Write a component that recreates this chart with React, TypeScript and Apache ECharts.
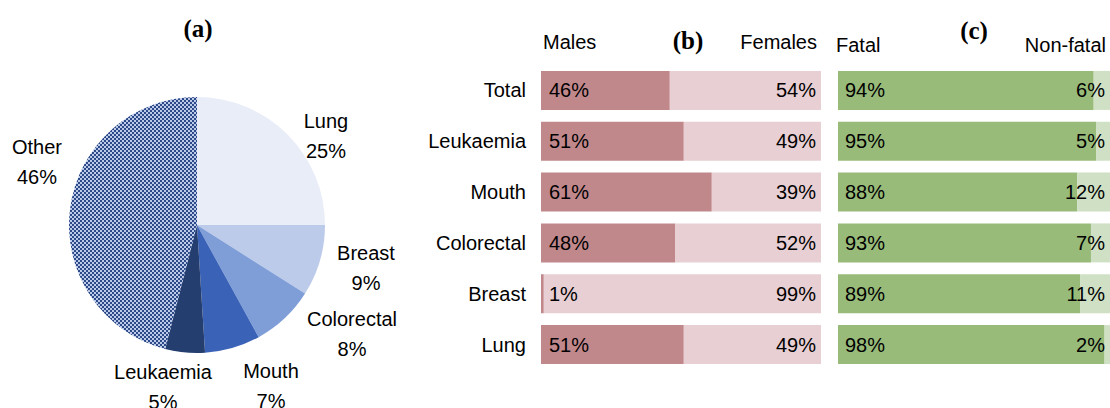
import React, { useEffect, useRef } from "react";
import * as echarts from "echarts";

// ---- data ----
const pieNames = ["Lung", "Breast", "Colorectal", "Mouth", "Leukaemia", "Other"];
const pieValues = [25, 9, 8, 7, 5, 46];

const barCategories = ["Total", "Leukaemia", "Mouth", "Colorectal", "Breast", "Lung"];
const malesPct = [46, 51, 61, 48, 1, 51];
const femalesPct = [54, 49, 39, 52, 99, 49];
const fatalPct = [94, 95, 88, 93, 89, 98];
const nonFatalPct = [6, 5, 12, 7, 11, 2];

// ---- layout (label anchor positions for pie labels, in px) ----
const pieLabelPos: [number, number][] = [
  [326, 136],
  [366, 268],
  [352, 334],
  [271, 386],
  [163, 387],
  [37, 162],
];

const SANS = "'Liberation Sans', Arial, sans-serif";
const SERIF = "'Liberation Serif', 'Times New Roman', serif";

function makeChecker() {
  const c = document.createElement("canvas");
  c.width = 4;
  c.height = 4;
  const ctx = c.getContext("2d")!;
  ctx.fillStyle = "#bccaea";
  ctx.fillRect(0, 0, 4, 4);
  ctx.fillStyle = "#2d4987";
  ctx.fillRect(0, 0, 2, 2);
  ctx.fillRect(2, 2, 2, 2);
  return c;
}

export default function App() {
  const ref = useRef<HTMLDivElement>(null);
  useEffect(() => {
    if (!ref.current) return;
    const chart = echarts.init(ref.current, null, { renderer: "svg" });
    const pieColors = ["#e9edf8", "#bdcbea", "#7f9ed8", "#3a63b8", "#253e70"];
    const checker = makeChecker();
    const pieData = pieNames.map((n, i) => ({
      name: n,
      value: pieValues[i],
      itemStyle:
        i < pieColors.length
          ? { color: pieColors[i] }
          : { color: { image: checker, repeat: "repeat", imageWidth: 4, imageHeight: 4 } as any },
    }));
    const barLabel = (pos: string, dist: number) => ({
      show: true,
      position: pos,
      distance: dist,
      formatter: "{c}%",
      color: "#000",
      fontSize: 20,
      fontFamily: SANS,
    });
    chart.setOption({
      animation: false,
      graphic: [
        { type: "text", x: 198, y: 28, style: { text: "(a)", font: `bold 25px ${SERIF}`, fill: "#000", textAlign: "center", textVerticalAlign: "middle" } },
        { type: "text", x: 688, y: 40, style: { text: "(b)", font: `bold 25px ${SERIF}`, fill: "#000", textAlign: "center", textVerticalAlign: "middle" } },
        { type: "text", x: 974, y: 30, style: { text: "(c)", font: `bold 25px ${SERIF}`, fill: "#000", textAlign: "center", textVerticalAlign: "middle" } },
        { type: "text", x: 543, y: 42, style: { text: "Males", font: `20px ${SANS}`, fill: "#000", textAlign: "left", textVerticalAlign: "middle" } },
        { type: "text", x: 817, y: 42, style: { text: "Females", font: `20px ${SANS}`, fill: "#000", textAlign: "right", textVerticalAlign: "middle" } },
        { type: "text", x: 836, y: 45, style: { text: "Fatal", font: `20px ${SANS}`, fill: "#000", textAlign: "left", textVerticalAlign: "middle" } },
        { type: "text", x: 1106, y: 45, style: { text: "Non-fatal", font: `20px ${SANS}`, fill: "#000", textAlign: "right", textVerticalAlign: "middle" } },
      ],
      grid: [
        { left: 541, top: 65, width: 280, height: 305 },
        { left: 838, top: 65, width: 274, height: 305 },
      ],
      xAxis: [
        { type: "value", gridIndex: 0, min: 0, max: 100, show: false },
        { type: "value", gridIndex: 1, min: 0, max: 100, show: false },
      ],
      yAxis: [
        {
          type: "category",
          gridIndex: 0,
          inverse: true,
          data: barCategories,
          axisLine: { show: false },
          axisTick: { show: false },
          axisLabel: { fontSize: 20, color: "#000", fontFamily: SANS, margin: 15 },
        },
        { type: "category", gridIndex: 1, inverse: true, data: barCategories, show: false },
      ],
      series: [
        {
          type: "pie",
          center: [197, 225],
          radius: 128,
          startAngle: 90,
          clockwise: true,
          avoidLabelOverlap: false,
          data: pieData,
          label: {
            show: true,
            position: "outside",
            formatter: "{b}\n{c}%",
            fontSize: 20,
            lineHeight: 30,
            color: "#000",
            fontFamily: SANS,
            width: 130,
            overflow: "none",
            align: "center",
          },
          labelLine: { show: false },
          labelLayout: (p: any) => ({
            x: pieLabelPos[p.dataIndex][0],
            y: pieLabelPos[p.dataIndex][1],
            align: "center",
            verticalAlign: "middle",
          }),
          emphasis: { disabled: true },
        },
        {
          type: "bar", name: "Males", stack: "b", xAxisIndex: 0, yAxisIndex: 0, barWidth: 39,
          data: malesPct, itemStyle: { color: "#c1888c" }, label: barLabel("insideLeft", 8),
        },
        {
          type: "bar", name: "Females", stack: "b", xAxisIndex: 0, yAxisIndex: 0, barWidth: 39,
          data: femalesPct, itemStyle: { color: "#e8cfd3" }, label: barLabel("insideRight", 5),
        },
        {
          type: "bar", name: "Fatal", stack: "c", xAxisIndex: 1, yAxisIndex: 1, barWidth: 39,
          data: fatalPct, itemStyle: { color: "#98bb7a" }, label: barLabel("insideLeft", 7),
        },
        {
          type: "bar", name: "Non-fatal", stack: "c", xAxisIndex: 1, yAxisIndex: 1, barWidth: 39,
          data: nonFatalPct, itemStyle: { color: "#cfe0c4" }, label: barLabel("insideRight", 5),
        },
      ],
    });
    return () => chart.dispose();
  }, []);
  return (
    <div style={{ position: "fixed", left: 0, top: 0, width: 1110, height: 408, background: "#fff" }}>
      <div ref={ref} style={{ width: 1110, height: 408 }} />
    </div>
  );
}
